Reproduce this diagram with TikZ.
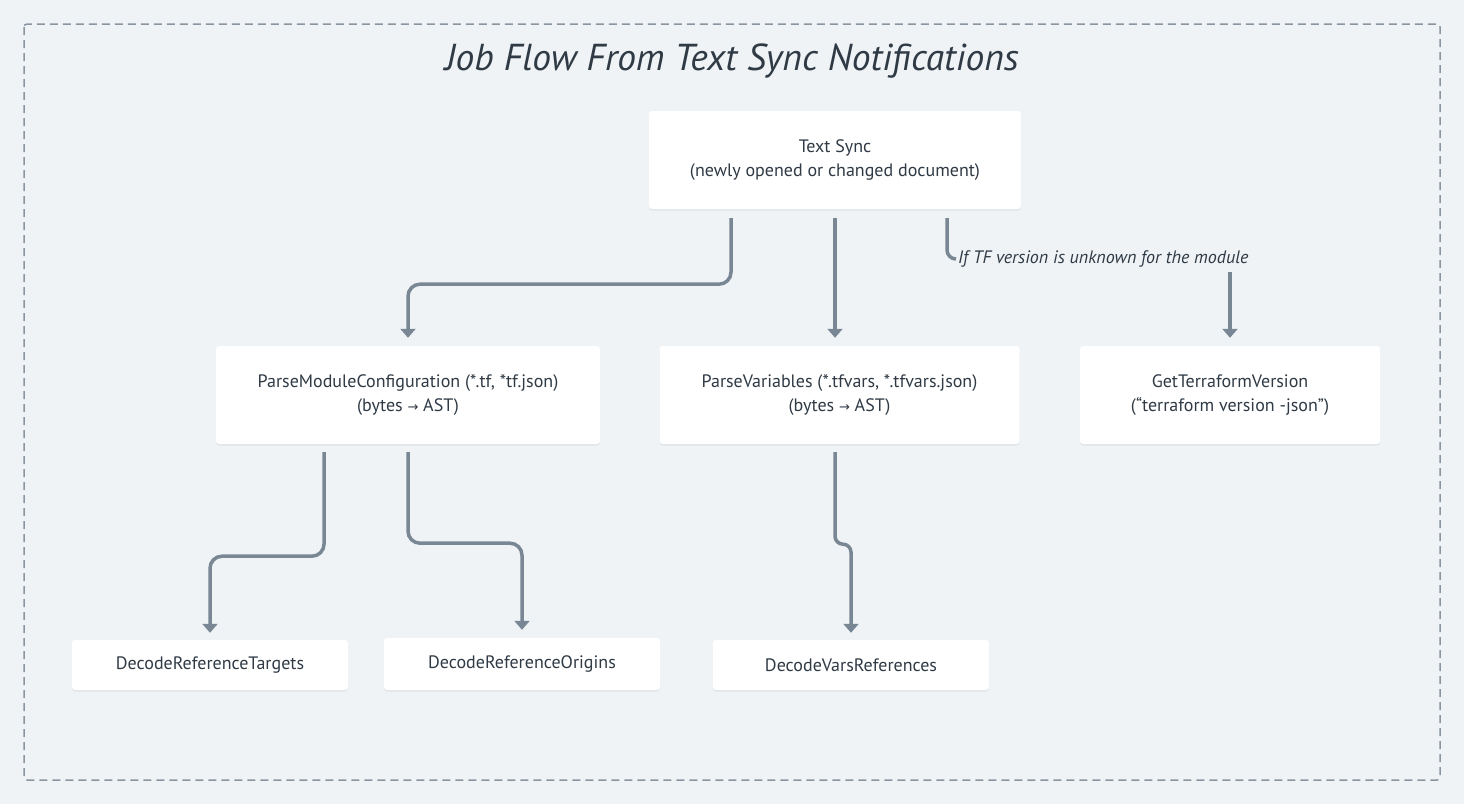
\documentclass[tikz,border=0pt]{standalone}
\usepackage{fontspec}
\setmainfont{PT Sans}
\newfontfamily\arrfont{DejaVu Sans}
\usetikzlibrary{arrows.meta,shadows}
\definecolor{bgc}{HTML}{EFF3F6}
\definecolor{linec}{HTML}{798795}
\definecolor{txtc}{HTML}{2F3A45}
\definecolor{framec}{HTML}{8B95A0}
\newcommand{\rarr}{{\arrfont\fontsize{13}{13}\selectfont →}}
\tikzset{
  box/.style={fill=white, rounded corners=3pt, text=txtc, align=center,
    font=\fontsize{18}{24}\selectfont, inner sep=0pt,
    drop shadow={shadow xshift=0pt, shadow yshift=-1.5pt, opacity=0.06, fill=black}},
  conn/.style={draw=linec, line width=3.5pt, rounded corners=12pt,
    -{Triangle[width=15pt,length=9pt]}},
  connplain/.style={draw=linec, line width=3.5pt, rounded corners=9pt},
  lbl/.style={text=txtc, font=\fontsize{18}{20}\selectfont\itshape, inner sep=2pt}
}
\begin{document}
\begin{tikzpicture}[x=1pt,y=-1pt]
\fill[bgc] (0,0) rectangle (1464,804);
\useasboundingbox (0,0) rectangle (1464,804);
\draw[framec, line width=1.5pt, dash pattern=on 8pt off 5pt, rounded corners=3pt] (24,24) rectangle (1440,780);
\node[text=txtc, font=\fontsize{37.5}{40}\selectfont\itshape] (title) at (732,61) {Job Flow From Text Sync Notifications};

\node[box, minimum width=372pt, minimum height=98pt] (ts) at (835,160) {Text Sync\\(newly opened or changed document)};
\node[box, minimum width=384pt, minimum height=98pt] (pmc) at (408,395) {ParseModuleConfiguration (*.tf, *tf.json)\\(bytes \rarr{} AST)};
\node[box, minimum width=360pt, minimum height=98pt] (pv) at (839.5,395) {ParseVariables (*.tfvars, *.tfvars.json)\\(bytes \rarr{} AST)};
\node[box, minimum width=300pt, minimum height=98pt] (gtv) at (1230,395) {GetTerraformVersion\\(“terraform version -json”)};
\node[box, minimum width=276pt, minimum height=50pt] (drt) at (210,665) {DecodeReferenceTargets};
\node[box, minimum width=276pt, minimum height=52pt] (dro) at (522,664) {DecodeReferenceOrigins};
\node[box, minimum width=276pt, minimum height=50pt] (dvr) at (851,665) {DecodeVarsReferences};

\node[lbl, anchor=west] (cond) at (956,259) {If TF version is unknown for the module};

\draw[conn] ([xshift=-104pt,yshift=-9pt]ts.south) -- ++(0,66) -| ([yshift=8pt]pmc.north);
\draw[conn] ([yshift=-9pt]ts.south) -- ([yshift=8pt]ts.south |- pv.north);
\draw[connplain] ([xshift=112pt,yshift=-9pt]ts.south) |- (cond.west);
\draw[conn] ([yshift=-3pt]cond.south -| gtv.north) -- ([yshift=8pt]gtv.north);

\draw[conn] ([xshift=-84pt,yshift=-8pt]pmc.south) -- ++(0,104) -| ([yshift=7pt]drt.north);
\draw[conn] ([yshift=-8pt]pmc.south) -- ++(0,91) -| ([yshift=8pt]dro.north);
\draw[conn, rounded corners=8pt] ([yshift=-8pt]pv.south -| ts.south) -- ++(0,92) -| ([yshift=7pt]dvr.north);
\end{tikzpicture}
\end{document}
